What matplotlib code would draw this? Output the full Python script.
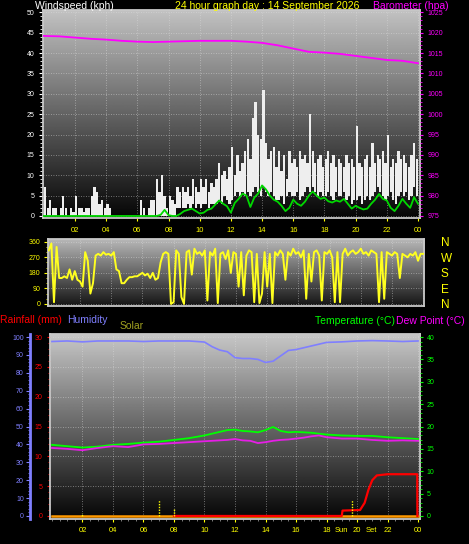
import numpy as np
import matplotlib
matplotlib.use("Agg")
import matplotlib.pyplot as plt
from matplotlib.ticker import MultipleLocator

plt.rcParams["font.family"] = ["Liberation Sans", "DejaVu Sans"]

# ---------------- data ----------------
# wind gust range per 10 minutes (kph), 144 steps
gust_hi = [7, 2, 4, 2, 2, 0,   2, 5, 2, 0, 2, 1,   5, 2, 2, 1, 2, 2,
           5, 7, 6, 3, 4, 2,   3, 2, 0, 0, 0, 0,   0, 0, 0, 0, 0, 0,
           0, 4, 2, 0, 2, 4,   4, 9, 6, 10, 5, 2,  5, 4, 3, 7, 6, 7,
           6, 7, 5, 9, 7, 6,   9, 7, 9, 6, 8, 7,   9, 13, 10, 11, 9, 12,
           17, 10, 15, 11, 13, 16,  19, 14, 24, 28, 20, 19,
           31, 18, 14, 16, 17, 12,  16, 11, 15, 9, 16, 13,
           14, 12, 16, 14, 15, 13,  25, 16, 13, 14, 15, 12,
           14, 16, 13, 15, 12, 14,  13, 12, 15, 13, 14, 12,
           22, 13, 12, 14, 15, 12,  18, 13, 15, 14, 16, 13,
           20, 12, 14, 13, 16, 14,  15, 13, 12, 15, 18, 14]
gust_lo = [0] * 48 + [0, 0, 0, 2, 2, 2,
           2, 3, 2, 3, 2, 3,   2, 3, 3, 2, 3, 3,   3, 4, 3, 5, 4, 3,
           4, 5, 6, 5, 6, 5,   6, 5, 6, 7, 6, 5,   7, 6, 5, 6, 5, 4,
           4, 5, 3, 5, 6, 5,   5, 6, 4, 5, 6, 7,   6, 7, 6, 5, 6, 5,
           5, 6, 5, 4, 6, 5,   5, 6, 4, 5, 3, 4,   4, 5, 3, 4, 5, 4,
           5, 6, 7, 6, 5, 4,   5, 6, 4, 3, 5, 6,   5, 6, 4, 5, 7, 5]
# average wind per 15 minutes (kph), 0h..24h
wind_avg = [0] * 30 + [0.3, 1.5, 0.2, 0, 0, 0.5,
            1.2, 1.5, 1.8, 1.2,  0.6, 0.8, 1.5, 1.8,  2.8, 3.8, 3.0, 2.4,
            0.8, 3.2, 4.2, 5.5,  5.0, 2.2, 4.5, 5.5,  7.5, 6.5, 5.0, 4.0,
            3.5, 2.5, 1.2, 2.0,  4.0, 3.0, 2.5, 3.5,  5.0, 6.0, 5.0, 4.2,
            4.5, 3.6, 3.3, 3.8,  3.5, 4.2, 3.0, 1.8,  2.5, 2.0, 1.6, 1.8,
            3.0, 4.0, 5.4, 4.2,  3.8, 2.0, 1.2, 2.5,  4.2, 3.0, 2.0, 4.6, 3.0]
baro_hours = list(range(25))
barometer = [1019.2, 1019.1, 1018.8, 1018.5, 1018.3, 1018.0, 1017.8, 1017.7,
             1017.8, 1017.9, 1018.0, 1018.0, 1018.0, 1017.8, 1017.5, 1016.9,
             1016.1, 1015.3, 1015.1, 1014.8, 1014.3, 1013.8, 1013.3, 1013.1, 1012.5]
# wind direction per 10 minutes (deg), 0h..24h
wind_dir = [310, 350, 10, 330, 150, 150,  160, 150, 200, 140, 190, 140,
            130, 100, 300, 250, 60, 120,  280, 290, 280, 300, 285, 290,
            280, 300, 200, 190, 120, 120,  140, 155, 155, 160, 160, 170,
            180, 165, 175, 150, 180, 140,  150, 240, 290, 300, 290, 0,
            10, 310, 290, 40, 0, 300,      310, 170, 320, 290, 300, 280,
            310, 20, 300, 280, 320, 5,     290, 300, 260, 310, 180, 300,
            290, 100, 300, 50, 280, 310,   300, 10, 290, 5, 60, 300,
            100, 290, 5, 300, 280, 310,    290, 140, 300, 280, 320, 290,
            300, 270, 310, 30, 290, 130,   300, 310, 280, 20, 300, 290,
            310, 270, 10, 300, 10, 290,    320, 280, 300, 310, 290, 300,
            320, 290, 300, 280, 310, 300,  290, 10, 300, 30, 300, 290,
            280, 300, 290, 150, 290, 280,  270, 290, 280, 300, 250, 290, 290]

hum_hours = [0, 1, 2, 3, 4, 5, 6, 7, 8, 9, 10, 10.5, 11, 11.5, 12, 12.5, 13,
             13.5, 14, 14.5, 15, 15.5, 16, 16.5, 17, 17.5, 18, 19, 20, 21, 22, 23, 24]
humidity = [97.5, 97.8, 97.3, 97.8, 97.8, 97.8, 97.5, 97.8, 97.8, 97.8, 97.2,
            94.6, 92.7, 91.8, 88.5, 88.0, 88.0, 87.5, 85.8, 86.5, 89.5, 92.5,
            93.0, 94.0, 95.0, 96.0, 97.0, 97.3, 97.8, 98.0, 97.8, 97.5, 97.8]
temp_hours = [0, 1, 2, 3, 4, 5, 6, 7, 8, 9, 10, 11, 11.5, 12, 12.5, 13, 13.5,
              14, 14.5, 15, 15.5, 16, 16.5, 17, 17.5, 18, 19, 20, 21, 22, 23, 24]
temperature = [15.9, 15.6, 15.3, 15.5, 15.9, 16.1, 16.4, 16.6, 17.0, 17.4, 18.0,
               18.8, 19.2, 19.3, 19.0, 18.9, 18.7, 19.2, 19.9, 19.0, 18.7, 18.8,
               18.7, 18.6, 18.4, 18.2, 18.0, 17.9, 17.9, 17.6, 17.4, 17.2]
dew_point = [15.2, 15.0, 14.7, 15.2, 15.6, 15.4, 16.0, 16.1, 16.3, 16.5, 16.7,
             16.9, 17.0, 17.2, 16.9, 16.8, 16.3, 16.5, 16.8, 17.0, 17.1, 17.3,
             17.5, 17.8, 18.0, 17.6, 17.3, 17.3, 17.0, 16.8, 16.9, 16.8]
rain_hours = [8, 19.0, 19.05, 20.2, 20.5, 20.75, 21.0, 21.3, 22.0, 23.95, 23.96]
rainfall = [0, 0, 0.9, 1.0, 2.2, 4.4, 6.0, 6.8, 7.0, 7.0, 0]
solar_hours = [0, 24]
solar = [0, 0]
sun_marks = [2.0, 7.0, 8.0, 19.7]
sun_mark_h = [1.5, 9, 4.5, 9]

hour_ticks = list(range(2, 25, 2))
hour_labels = ["02", "04", "06", "08", "10", "12", "14", "16", "18", "20", "22", "00"]
compass = ["N", "E", "S", "W", "N"]

W, H = 469, 544
YEL = "#ffff00"
MAG = "#ff00ff"
GRN = "#00ff00"
BLU = "#7f7fff"


def box(l, t, r, b):
    return [l / W, 1 - b / H, (r - l) / W, (b - t) / H]


def shade(ax, top, bot):
    g = np.linspace(top, bot, 256).reshape(-1, 1)
    ax.imshow(g, cmap="gray", vmin=0, vmax=1, aspect="auto", extent=[0, 1, 0, 1],
              transform=ax.transAxes, zorder=0, interpolation="bilinear")
    ax.set_axisbelow(True)
    ax.grid(True, color="#e0e0e0", linestyle=(0, (1, 2)), linewidth=0.6, alpha=0.6)
    for s in ax.spines.values():
        s.set_color("#c8c8c8")
        s.set_linewidth(1.3)


fig = plt.figure(figsize=(W / 100, H / 100), dpi=100, facecolor="black")

# ---------------- wind speed / barometer ----------------
ax = fig.add_axes(box(43, 10, 420, 218))
shade(ax, 0.76, 0.02)
t10 = np.arange(len(gust_hi)) / 6
ax.bar(t10 + 1 / 12, np.array(gust_hi) - np.array(gust_lo), bottom=gust_lo,
       width=0.15, color="#eeeeee", linewidth=0, zorder=2)
ax.plot(np.arange(len(wind_avg)) / 4, wind_avg, color="#00d800", lw=1.3, zorder=3)
ax.set_xlim(-0.05, 24.13)
ax.set_ylim(-0.5, 50.57)
ax.set_xticks(hour_ticks)
ax.set_xticklabels(hour_labels)
ax.yaxis.set_major_locator(MultipleLocator(5))
ax.yaxis.set_minor_locator(MultipleLocator(1))
ax.tick_params(axis="x", colors=YEL, labelsize=5.5, length=2, pad=4.5)
ax.tick_params(axis="y", which="both", colors="white", labelsize=5, pad=3)
ax.tick_params(axis="y", which="major", length=3)
ax.tick_params(axis="y", which="minor", length=2)
axp = ax.twinx()
axp.plot(baro_hours, barometer, color=MAG, lw=1.3, zorder=3)
axp.set_ylim(974.5, 1025.57)
axp.yaxis.set_major_locator(MultipleLocator(5))
axp.yaxis.set_minor_locator(MultipleLocator(1))
axp.tick_params(axis="y", which="both", colors=MAG, labelsize=5, pad=3)
axp.tick_params(axis="y", which="minor", length=1.5)
axp.tick_params(axis="y", which="major", length=2.5)
for s in axp.spines.values():
    s.set_visible(False)

# ---------------- wind direction ----------------
axd = fig.add_axes(box(48, 239, 424, 306))
shade(axd, 0.72, 0.08)
axd.plot(np.arange(len(wind_dir)) / 6, wind_dir, color="#ffff20", lw=1.4, zorder=3)
axd.set_xlim(-0.05, 24.05)
axd.set_ylim(-12, 376)
axd.set_xticks(hour_ticks)
axd.set_xticklabels([])
axd.tick_params(axis="x", length=0)
axd.set_yticks([0, 90, 180, 270, 360])
axd.yaxis.set_minor_locator(MultipleLocator(30))
axd.tick_params(axis="y", which="both", colors=YEL, labelsize=5, pad=2.5)
axd.tick_params(axis="y", which="major", length=3)
axd.tick_params(axis="y", which="minor", length=1.5)
axc = axd.twinx()
axc.set_ylim(-12, 376)
axc.set_yticks([0, 90, 180, 270, 360])
axc.set_yticklabels(compass)
axc.tick_params(axis="y", colors=YEL, labelsize=8.5, length=0, pad=12)
for s in axc.spines.values():
    s.set_visible(False)

# ---------------- rain / humidity / temperature ----------------
axb = fig.add_axes(box(50, 334, 420, 519))
shade(axb, 0.78, 0.02)
axb.plot(solar_hours, solar, color="#ff9900", lw=1.8, zorder=3)
axb.plot(rain_hours, rainfall, color="#ff0000", lw=1.6, zorder=4)
axb.set_xlim(-0.13, 24.13)
axb.set_ylim(-0.51, 30.51)
axb.set_xticks(hour_ticks)
axb.set_xticklabels(hour_labels)
axb.xaxis.set_minor_locator(MultipleLocator(0.5))
axb.tick_params(axis="x", which="major", colors=YEL, labelsize=5.5, length=2, pad=3.5)
axb.tick_params(axis="x", which="minor", colors="#909090", length=1.5)
axb.yaxis.set_major_locator(MultipleLocator(5))
axb.yaxis.set_minor_locator(MultipleLocator(1))
axb.tick_params(axis="y", which="both", colors="#ff0000", labelsize=5, pad=3.5)
axb.tick_params(axis="y", which="major", length=2)
axb.tick_params(axis="y", which="minor", length=1.2)
axb.vlines(sun_marks, 0, np.array(sun_mark_h) * 0.3, colors=YEL,
           linestyles=(0, (1, 1)), lw=1, zorder=5)
# sunset label sits either side of the "20" tick label
xt = axb.get_xaxis_transform()
axb.text(19.45, -0.063, "Sun", color=YEL, fontsize=5.5, ha="right", va="center", transform=xt)
axb.text(20.55, -0.063, "Set", color=YEL, fontsize=5.5, ha="left", va="center", transform=xt)

axh = axb.twinx()
axh.plot(hum_hours, humidity, color=BLU, lw=1.2, zorder=3)
axh.set_ylim(-1.7, 101.7)
axh.yaxis.set_ticks_position("left")
axh.yaxis.set_label_position("left")
axh.spines["left"].set_visible(True)
axh.spines["left"].set_position(("outward", 14.4))
axh.spines["left"].set_color(BLU)
axh.spines["left"].set_linewidth(2)
for k in ("right", "top", "bottom"):
    axh.spines[k].set_visible(False)
axh.yaxis.set_major_locator(MultipleLocator(10))
axh.yaxis.set_minor_locator(MultipleLocator(2))
axh.tick_params(axis="y", which="both", colors=BLU, labelsize=5, pad=1.5)
axh.tick_params(axis="y", which="major", length=3)
axh.tick_params(axis="y", which="minor", length=1.5)

axt = axb.twinx()
axt.plot(temp_hours, temperature, color=GRN, lw=1.3, zorder=3)
axt.plot(temp_hours, dew_point, color="#e61ee6", lw=1.3, zorder=3)
axt.set_ylim(-0.68, 40.68)
axt.yaxis.set_major_locator(MultipleLocator(5))
axt.yaxis.set_minor_locator(MultipleLocator(1))
axt.tick_params(axis="y", which="both", colors=GRN, labelsize=5, pad=3)
axt.tick_params(axis="y", which="major", length=2)
axt.tick_params(axis="y", which="minor", length=1.2)
for s in axt.spines.values():
    s.set_visible(False)

# ---------------- titles ----------------
def label(x, y, s, c, ha="left"):
    fig.text(x / W, 1 - y / H, s, color=c, fontsize=7.5, ha=ha, va="center")


label(35, 6, "Windspeed (kph)", "white")
label(267, 6, "24 hour graph day : 14 September 2026", YEL, ha="center")
label(373, 6, "Barometer (hpa)", MAG)
label(0, 320, "Rainfall (mm)", "#ff0000")
label(67, 320, "Humidity", BLU)
label(120, 326, "Solar", "#a0a020")
label(315, 321, "Temperature (\u00b0C)", GRN)
label(396, 321, "Dew Point (\u00b0C)", MAG)

fig.savefig("out.png", dpi=100, facecolor="black")
